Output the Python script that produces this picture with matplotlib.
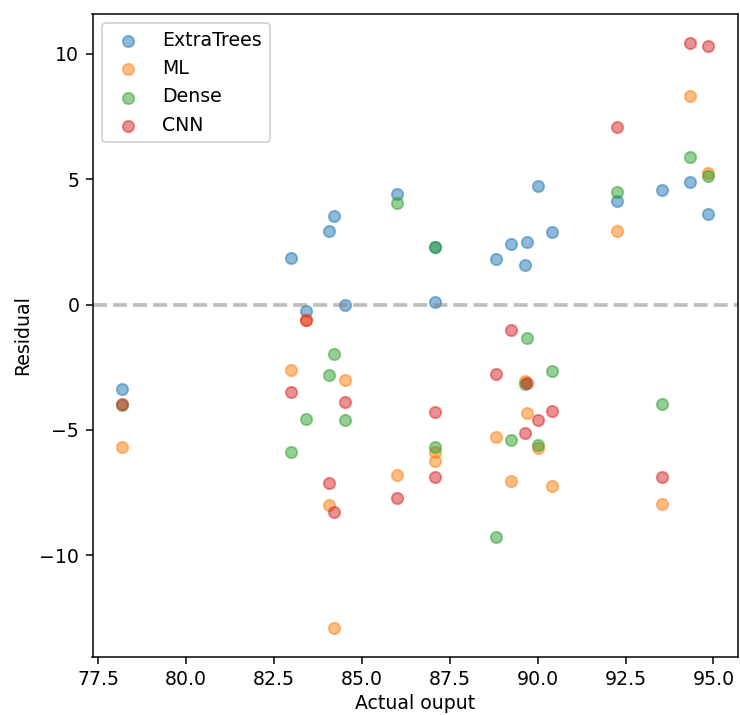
import matplotlib
matplotlib.use("Agg")
import matplotlib.pyplot as plt

# actual output of each sample
actual = [78.17, 82.98, 83.40, 84.07, 84.22, 84.51, 86.00, 87.08, 87.08, 88.82,
          89.25, 89.63, 89.71, 90.00, 90.41, 92.27, 93.54, 94.33, 94.86]

# residuals per model
extratrees = [-3.37, 1.85, -0.25, 2.95, 3.53, -0.03, 4.41, 2.30, 0.09, 1.80,
              2.40, 1.56, 2.48, 4.74, 2.90, 4.13, 4.57, 4.89, 3.61]
ml = [-5.67, -2.61, -0.62, -8.00, -12.90, -3.01, -6.80, -5.88, -6.26, -5.27,
      -7.04, -3.05, -4.33, -5.74, -7.24, 2.92, -7.96, 8.33, 5.23]
dense = [-4.00, -5.88, -4.58, -2.81, -1.96, -4.59, 4.04, 2.28, -5.67, -9.27,
         -5.42, -3.18, -1.32, -5.62, -2.67, 4.49, -3.97, 5.90, 5.13]
cnn = [-3.95, -3.50, -0.62, -7.11, -8.26, -3.89, -7.73, -4.27, -6.88, -2.76,
       -1.03, -5.13, -3.15, -4.61, -4.26, 7.07, -6.88, 10.44, 10.31]

names = ["ExtraTrees", "ML", "Dense", "CNN"]
series = [extratrees, ml, dense, cnn]

dpi = 136
fig = plt.figure(figsize=(740 / dpi, 715 / dpi), dpi=dpi)
ax = fig.add_axes([0.125, 0.081, 0.872, 0.900])

for name, res in zip(names, series):
    ax.scatter(actual, res, alpha=0.5, label=name)

ax.axhline(0, color="gray", alpha=0.5, linestyle="--", linewidth=2)

ax.set_xlabel("Actual ouput", labelpad=2.5)
ax.set_ylabel("Residual")
ax.legend(loc="upper left")

plt.savefig("out.png", dpi=dpi)
